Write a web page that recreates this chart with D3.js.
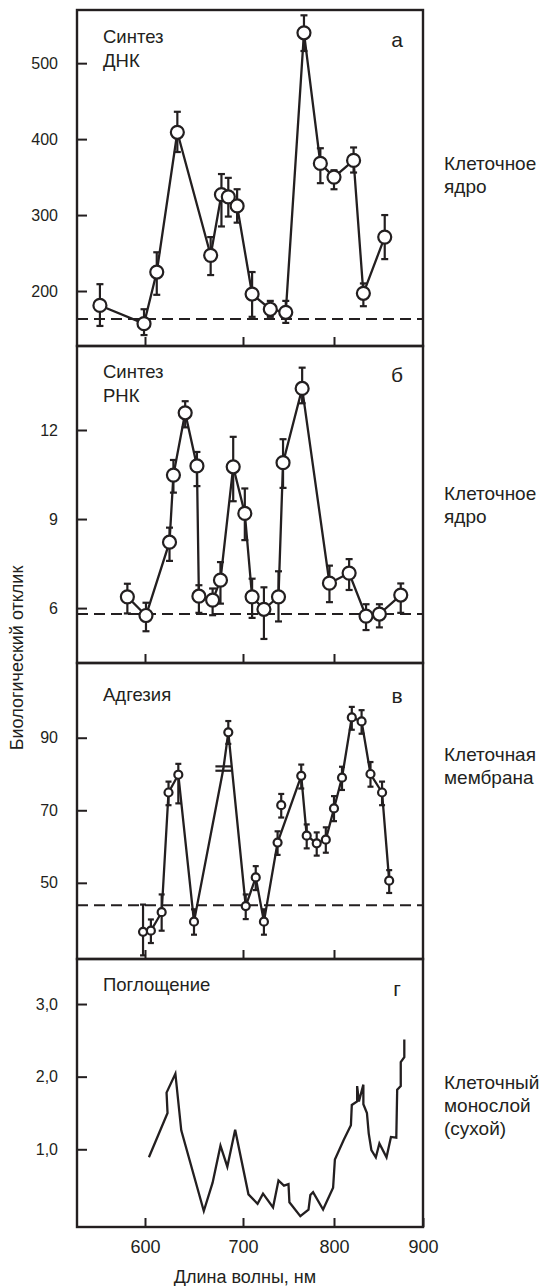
<!DOCTYPE html>
<html>
<head>
<meta charset="utf-8">
<script src="https://cdn.jsdelivr.net/npm/d3@7/dist/d3.min.js"></script>
<style>
  html, body { margin: 0; padding: 0; background: #fff; }
  svg { display: block; }
  text { fill: #231f20; font-family: "Liberation Sans Narrow", "Liberation Sans", sans-serif; }
</style>
</head>
<body>
<svg id="chart" width="541" height="1286"></svg>
<script>
// wavelength ticks, nm
const xTicks = [600, 700, 800, 900];

// а: DNA synthesis
const dnaWl  = [554, 599, 612, 633, 667, 678, 685, 694, 710, 730, 747, 767, 785, 800, 822, 833, 857];
const dnaVal = [181, 157, 225, 409, 247, 327, 324, 312, 196, 176, 172, 540, 368, 350, 372, 197, 271];
const dnaLo  = [154, 142, 195, 383, 221, 285, 298, 290, 166, 166, 158, 516, 342, 334, 356, 180, 242];
const dnaHi  = [209, 176, 251, 436, 271, 354, 349, 334, 225, 187, 187, 563, 388, 359, 389, 210, 300];
const dnaBase = 163;
const dnaTicks = [200, 300, 400, 500];

// б: RNA synthesis
const rnaWl  = [582, 601, 625, 629, 641, 653, 655, 669, 677, 690, 702, 710, 723, 739, 744, 765, 795, 817, 836, 851, 875];
const rnaVal = [6.38, 5.75, 8.22, 10.48, 12.58, 10.79, 6.4, 6.27, 6.94, 10.76, 9.19, 6.38, 5.96, 6.38, 10.9, 13.4, 6.84, 7.18, 5.73, 5.8, 6.44];
const rnaLo  = [5.82, 5.22, 7.59, 9.89, 12.09, 10.11, 5.84, 5.76, 6.15, 9.6, 8.29, 5.67, 4.96, 5.55, 10.05, 12.9, 6.2, 6.61, 5.26, 5.35, 5.84];
const rnaHi  = [6.82, 6.18, 8.71, 10.99, 12.97, 11.26, 6.77, 6.66, 7.55, 11.77, 10.03, 6.99, 6.7, 7.24, 11.69, 14.1, 7.43, 7.65, 6.13, 6.13, 6.83];
const rnaBase = 5.8;
const rnaTicks = [6, 9, 12];

// в: adhesion
const adhWl  = [598, 606, 617, 624, 634, 650, 680, 685, 703, 714, 723, 738, 742, 764, 770, 781, 791, 800, 809, 820, 831, 841, 854, 862];
const adhVal = [36.5, 36.8, 41.9, 74.9, 79.8, 39.3, 81.5, 91.5, 43.6, 51.5, 39.3, 61.1, 71.4, 79.5, 63, 60.9, 61.9, 70.5, 79, 95.6, 94.5, 80, 74.9, 50.6];
const adhLo  = [30, 33.4, 36.8, 71.4, 71.9, 35.7, 80.9, 88.3, 40, 48, 35.7, 57.7, 68, 76, 59.5, 57.5, 58.3, 67, 75.6, 92.2, 91.1, 76.5, 71.4, 47.2];
const adhHi  = [44, 39.9, 46.8, 77.9, 82.8, 42.7, 82.1, 94.6, 46.8, 54.6, 42.7, 64.2, 74.5, 82.6, 66.1, 63.9, 65.3, 73.9, 82, 98.5, 97.6, 83.3, 77.9, 53.5];
const adhOffLine = [742];   // point not joined by the line
const adhBreak = [680];     // drawn as "=" without a circle
const adhBase = 43.8;
const adhTicks = [50, 70, 90];

// г: absorption of the dry monolayer
const absWl  = [604, 623, 622, 631, 637, 660, 669, 677, 684, 692, 706, 716, 722, 733, 739, 745, 750, 751, 763, 772, 774, 777, 788, 799, 801, 811, 819, 820, 826, 826, 828, 833, 833, 837, 839, 842, 847, 851, 859, 864, 870, 871, 875, 875, 879, 879];
const absVal = [0.89, 1.5, 1.78, 2.04, 1.26, 0.15, 0.54, 1.05, 0.76, 1.27, 0.38, 0.25, 0.39, 0.2, 0.57, 0.5, 0.52, 0.27, 0.08, 0.17, 0.37, 0.41, 0.17, 0.47, 0.86, 1.13, 1.33, 1.61, 1.66, 1.87, 1.66, 1.89, 1.62, 1.5, 1.22, 0.99, 0.89, 1.08, 0.89, 1.17, 1.16, 1.82, 1.87, 2.2, 2.27, 2.51];
const absTicks = [1, 2, 3];

const ink = '#231f20';
const svg = d3.select('#chart');
const left = 77, right = 423;

// the printed wavelength axis is not quite uniform, so follow its ticks
const x = d3.scaleLinear()
    .domain([530.6, 600, 700, 800, 900])
    .range([left, 145, 243, 334, right]);

function drawPanel(p) {
    const y = d3.scaleLinear().domain(p.domain).range([p.bottom, p.top]);
    const g = svg.append('g');

    // y axis, ticks pointing inward
    g.append('g')
        .attr('transform', `translate(${left},0)`)
        .call(d3.axisLeft(y).tickValues(p.ticks).tickSize(-10).tickPadding(19).tickFormat(p.fmt || d3.format('d')))
        .call(a => a.select('.domain').remove())
        .call(a => a.selectAll('line').attr('stroke', ink).attr('stroke-width', 2))
        .call(a => a.selectAll('text').attr('font-size', 16).attr('font-family', null).style('fill', ink));

    // x ticks at the bottom of every panel
    const xa = g.append('g')
        .attr('transform', `translate(0,${p.bottom})`)
        .call(d3.axisBottom(x).tickValues(p.labels ? xTicks : xTicks.slice(0, 3)).tickSize(-9).tickPadding(13))
        .call(a => a.select('.domain').remove())
        .call(a => a.selectAll('line').attr('stroke', ink).attr('stroke-width', 2))
        .call(a => a.selectAll('text').attr('font-size', 18).attr('font-family', null).style('fill', ink));
    if (!p.labels) xa.selectAll('text').remove();

    // dashed control level
    if (p.base != null) {
        g.append('line')
            .attr('x1', left).attr('x2', right)
            .attr('y1', y(p.base)).attr('y2', y(p.base))
            .attr('stroke', ink).attr('stroke-width', 2)
            .attr('stroke-dasharray', '11,6');
    }

    const pts = p.wl.map((w, i) => ({
        w, v: p.val[i],
        lo: p.lo ? p.lo[i] : null, hi: p.hi ? p.hi[i] : null
    }));
    const linePts = pts.filter(d => !(p.offLine || []).includes(d.w));

    g.append('path')
        .datum(linePts)
        .attr('fill', 'none')
        .attr('stroke', ink)
        .attr('stroke-width', 2.3)
        .attr('stroke-linejoin', 'miter')
        .attr('d', d3.line().x(d => x(d.w)).y(d => y(d.v)));

    if (p.lo) {
        const breaks = p.breaks || [];
        const eb = g.selectAll('.eb').data(pts).enter().append('g');
        eb.filter(d => !breaks.includes(d.w)).append('line')
            .attr('x1', d => x(d.w)).attr('x2', d => x(d.w))
            .attr('y1', d => y(d.lo)).attr('y2', d => y(d.hi))
            .attr('stroke', ink).attr('stroke-width', 2.2);
        ['lo', 'hi'].forEach(k => {
            eb.append('line')
                .attr('x1', d => x(d.w) - (breaks.includes(d.w) ? 8 : p.cap))
                .attr('x2', d => x(d.w) + (breaks.includes(d.w) ? 8 : p.cap))
                .attr('y1', d => y(d[k])).attr('y2', d => y(d[k]))
                .attr('stroke', ink).attr('stroke-width', 2.2);
        });
        g.selectAll('.pt').data(pts.filter(d => !breaks.includes(d.w))).enter()
            .append('circle')
            .attr('cx', d => x(d.w)).attr('cy', d => y(d.v))
            .attr('r', p.r)
            .attr('fill', '#fff').attr('stroke', ink).attr('stroke-width', 2.2);
    }

    // frame
    g.append('rect')
        .attr('x', left).attr('y', p.top)
        .attr('width', right - left).attr('height', p.bottom - p.top)
        .attr('fill', 'none').attr('stroke', ink).attr('stroke-width', 2.4);

    // panel title
    p.title.forEach((t, i) => {
        g.append('text').attr('x', 103).attr('y', p.titleY + i * 24)
            .attr('font-size', 18.5).text(t);
    });
    // panel letter
    g.append('text').attr('x', 397).attr('y', p.letterY)
        .attr('text-anchor', 'middle').attr('font-size', 21)
        .attr('font-family', 'Liberation Sans, sans-serif').text(p.letter);
    // description on the right
    p.side.forEach((t, i) => {
        g.append('text').attr('x', 444).attr('y', p.sideY + i * 23)
            .attr('font-size', 19).text(t);
    });
}

drawPanel({
    top: 10, bottom: 346, domain: [127.6, 570], ticks: dnaTicks,
    wl: dnaWl, val: dnaVal, lo: dnaLo, hi: dnaHi, base: dnaBase,
    r: 6.5, cap: 3.5,
    title: ['Синтез', 'ДНК'], titleY: 43, letter: 'а', letterY: 47,
    side: ['Клеточное', 'ядро'], sideY: 170
});

drawPanel({
    top: 346, bottom: 663, domain: [4.15, 14.83], ticks: rnaTicks,
    wl: rnaWl, val: rnaVal, lo: rnaLo, hi: rnaHi, base: rnaBase,
    r: 6.5, cap: 3.5,
    title: ['Синтез', 'РНК'], titleY: 378, letter: 'б', letterY: 382,
    side: ['Клеточное', 'ядро'], sideY: 500
});

drawPanel({
    top: 663, bottom: 959, domain: [29, 110.6], ticks: adhTicks,
    wl: adhWl, val: adhVal, lo: adhLo, hi: adhHi, base: adhBase,
    offLine: adhOffLine, breaks: adhBreak,
    r: 4, cap: 3,
    title: ['Адгезия'], titleY: 701, letter: 'в', letterY: 703,
    side: ['Клеточная', 'мембрана'], sideY: 761
});

drawPanel({
    top: 959, bottom: 1227, domain: [-0.07, 3.62], ticks: absTicks,
    fmt: d => d3.format('.1f')(d).replace('.', ','),
    wl: absWl, val: absVal, labels: true,
    title: ['Поглощение'], titleY: 991, letter: 'г', letterY: 996,
    side: ['Клеточный', 'монослой', '(сухой)'], sideY: 1089
});

// axis titles
svg.append('text')
    .attr('transform', 'translate(23,658) rotate(-90)')
    .attr('text-anchor', 'middle').attr('font-size', 18)
    .text('Биологический отклик');

svg.append('text')
    .attr('x', 245).attr('y', 1283)
    .attr('text-anchor', 'middle').attr('font-size', 18)
    .text('Длина волны, нм');
</script>
</body>
</html>
